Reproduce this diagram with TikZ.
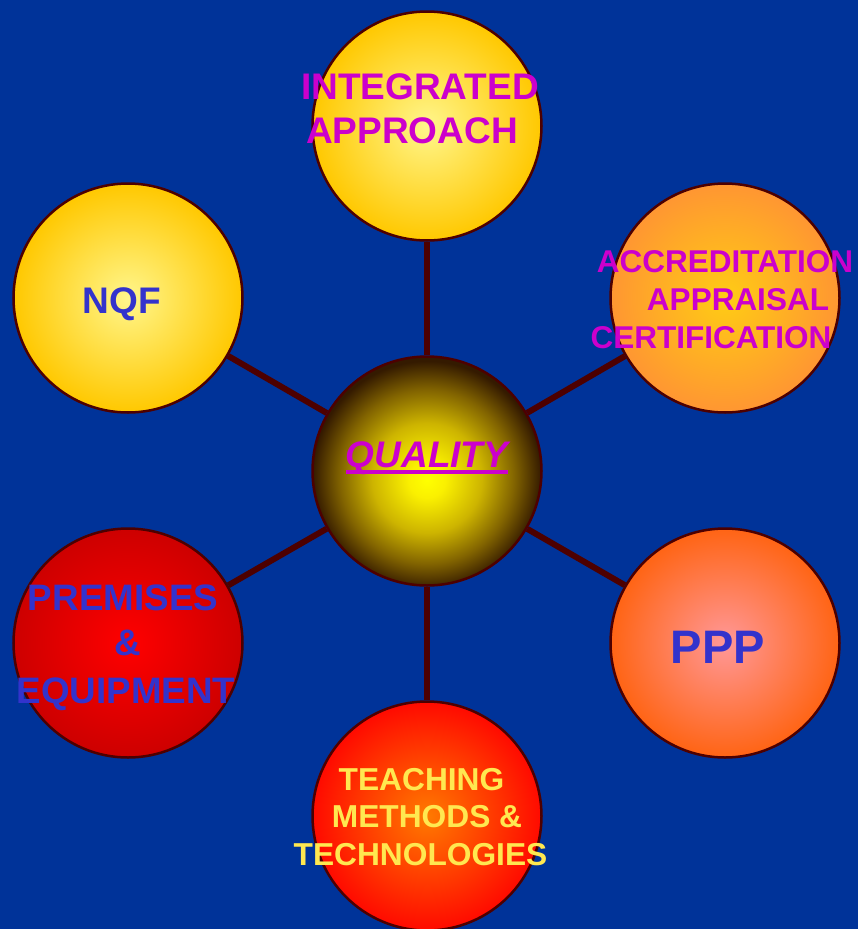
\documentclass[tikz,border=0pt]{standalone}
\usepackage{fontspec}
\setmainfont{Liberation Sans}
\definecolor{bgblue}{RGB}{0,51,153}
\definecolor{maroon}{RGB}{77,0,0}
\definecolor{mag}{RGB}{204,0,204}
\definecolor{tblue}{RGB}{51,51,204}
\definecolor{tyel}{RGB}{255,232,80}
\definecolor{qa}{RGB}{255,255,0}
\definecolor{qb}{RGB}{250,240,0}
\definecolor{qc}{RGB}{205,180,0}
\definecolor{qd}{RGB}{130,100,0}
\definecolor{qe}{RGB}{52,26,0}
\pgfdeclareradialshading{qualityshade}{\pgfpoint{0bp}{-2bp}}{%
  color(0bp)=(qa);
  color(4bp)=(qb);
  color(12bp)=(qc);
  color(19bp)=(qd);
  color(25bp)=(qe);
  color(50bp)=(qe)}
\tikzset{
  ball/.style={circle, draw=maroon, line width=2.5pt, minimum size=229pt, inner sep=0pt},
  spoke/.style={draw=maroon, line width=6pt},
  txt/.style={inner sep=0pt, anchor=base, font=\bfseries},
}
\begin{document}
\begin{tikzpicture}[x=1pt,y=-1pt]
\useasboundingbox (0,0) rectangle (858,929);
\fill[bgblue] (0,0) rectangle (858,929);
% circles
\node[ball, shading=qualityshade] (c) at (427,471) {};
\node[ball, inner color={rgb,255:red,255;green,246;blue,140}, outer color={rgb,255:red,255;green,200;blue,0}] (t) at (427,126) {};
\node[ball, inner color={rgb,255:red,255;green,246;blue,140}, outer color={rgb,255:red,255;green,200;blue,0}] (nqf) at (128,298) {};
\node[ball, inner color={rgb,255:red,255;green,204;blue,20}, outer color={rgb,255:red,255;green,150;blue,50}] (acc) at (725,298) {};
\node[ball, inner color={rgb,255:red,255;green,0;blue,0}, outer color={rgb,255:red,205;green,0;blue,0}] (pre) at (128,643) {};
\node[ball, inner color={rgb,255:red,255;green,152;blue,152}, outer color={rgb,255:red,255;green,100;blue,20}] (ppp) at (725,643) {};
\node[ball, inner color={rgb,255:red,255;green,122;blue,0}, outer color={rgb,255:red,255;green,10;blue,0}] (b) at (427,816) {};
% spokes
\foreach \n in {t,nqf,acc,pre,ppp,b} \draw[spoke] (c) -- (\n);
% texts
\node[txt, text=mag, font=\fontsize{37}{44}\selectfont\bfseries] (t1) at (420,99) {INTEGRATED};
\node[txt, text=mag, font=\fontsize{37}{44}\selectfont\bfseries] (t2) at (412,143) {APPROACH};
\node[txt, text=tblue, font=\fontsize{37}{44}\selectfont\bfseries] (n1) at (122,313) {NQF};
\node[txt, text=mag, font=\fontsize{31.5}{38}\selectfont\bfseries] (a1) at (725,272) {ACCREDITATION};
\node[txt, text=mag, font=\fontsize{31.5}{38}\selectfont\bfseries] (a2) at (738,310) {APPRAISAL};
\node[txt, text=mag, font=\fontsize{31.5}{38}\selectfont\bfseries] (a3) at (711,348) {CERTIFICATION};
\node[txt, text=mag, font=\fontsize{37}{44}\selectfont\bfseries\itshape] (q) at (427,467) {QUALITY};
\draw[mag, line width=4pt] ([yshift=-5pt]q.base west) -- ([yshift=-5pt]q.base east);
\node[txt, text=tblue, font=\fontsize{47}{54}\selectfont\bfseries] (p1) at (718,663) {PPP};
\node[txt, text=tblue, font=\fontsize{36.8}{44}\selectfont\bfseries] (e1) at (123,610) {PREMISES};
\node[txt, text=tblue, font=\fontsize{36.8}{44}\selectfont\bfseries] (e2) at (128,655) {\&};
\node[txt, text=tblue, font=\fontsize{36.8}{44}\selectfont\bfseries] (e3) at (126,703) {EQUIPMENT};
\node[txt, text=tyel, font=\fontsize{31.7}{38}\selectfont\bfseries] (b1) at (421.5,790) {TEACHING};
\node[txt, text=tyel, font=\fontsize{31.7}{38}\selectfont\bfseries] (b2) at (427,827) {METHODS \&};
\node[txt, text=tyel, font=\fontsize{31.7}{38}\selectfont\bfseries] (b3) at (420.5,865) {TECHNOLOGIES};
\end{tikzpicture}
\end{document}
